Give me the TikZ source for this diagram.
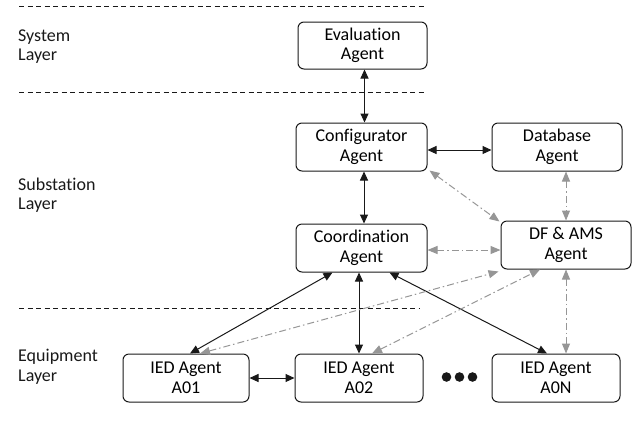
\documentclass[tikz,border=0pt]{standalone}
\usepackage{fontspec}
\setmainfont{Carlito}[RawFeature={-liga;-dlig}]
\usetikzlibrary{arrows.meta}
\definecolor{ink}{RGB}{25,25,25}
\definecolor{softgray}{RGB}{150,150,150}
\begin{document}
\begin{tikzpicture}[x=1pt,y=-1pt,
  font=\fontsize{18}{19.5}\selectfont,
  agent/.style={draw=ink, line width=1pt, rounded corners=6pt, align=center,
    inner sep=0pt, minimum width=#1, minimum height=48pt},
  agent/.default=130pt,
  layer/.style={anchor=west, align=left, inner sep=0pt, text=ink},
  sep/.style={draw=ink, line width=1pt, dash pattern=on 5pt off 3.5pt},
  link/.style={draw=ink, line width=1pt,
    {Triangle[length=9pt,width=8pt]}-{Triangle[length=9pt,width=8pt]}},
  msg/.style={draw=softgray, line width=1pt, dash pattern=on 7pt off 3pt on 1.5pt off 3pt,
    {Triangle[length=10pt,width=8pt]}-{Triangle[length=10pt,width=8pt]}}
]
\useasboundingbox (0,0) rectangle (634,424);

% layer separators
\coordinate (s1a) at (19,6);   \coordinate (s1b) at (425,6);
\coordinate (s2a) at (19,92);  \coordinate (s2b) at (425,92);
\coordinate (s3a) at (19,308); \coordinate (s3b) at (420,308);
\draw[sep] (s1a) -- (s1b);
\draw[sep] (s2a) -- (s2b);
\draw[sep] (s3a) -- (s3b);

% layer names
\node[layer] (lsys) at (18,46.5) {System\\Layer};
\node[layer] (lsub) at (18,195) {Substation\\Layer};
\node[layer] (lequ) at (18,366.5) {Equipment\\Layer};

% agents
\node[agent=129pt, minimum height=47pt] (eval) at (362.5,45.5) {Evaluation\\Agent};
\node[agent=131pt] (conf) at (361.5,147) {Configurator\\Agent};
\node[agent] (db) at (557,147) {Database\\Agent};
\node[agent=131pt] (coord) at (361.5,248) {Coordination\\Agent};
\node[agent] (df) at (566,245) {DF \& AMS\\Agent};
\node[agent=126pt] (a01) at (186,378) {IED Agent\\A01};
\node[agent=128pt] (a02) at (359,378) {IED Agent\\A02};
\node[agent=128pt] (a0n) at (556,378) {IED Agent\\A0N};

% ellipsis between the IED agents
\fill[ink] (446.5,377) circle (4.8pt) (459.5,377) circle (4.8pt) (472.5,377) circle (4.8pt);

% direct links
\draw[link] ([xshift=2pt]eval.south) -- ([xshift=2pt]eval.south |- conf.north);
\draw[link] ([yshift=-3pt]conf.east) -- ([yshift=-3pt]conf.east -| db.west);
\draw[link] ([xshift=2.5pt]conf.south) -- ([xshift=2.5pt]conf.south |- coord.north);
\draw[link] ([xshift=-29pt]coord.south) -- ([xshift=4pt]a01.north);
\draw[link] (a02.north |- coord.south) -- (a02.north);
\draw[link] ([xshift=28pt]coord.south) -- ([xshift=-9pt]a0n.north);
\draw[link] (a01.east) -- (a02.west);

% messages through the directory facilitator
\draw[msg] ([shift={(2pt,1pt)}]conf.south east) -- ([shift={(-1pt,-1pt)}]df.north west);
\draw[msg] (df.north |- db.south) -- (df.north);
\draw[msg] ([yshift=-2pt]coord.east) -- ([yshift=-2pt]coord.east -| df.west);
\draw[msg] ([xshift=14pt]a01.north) -- ([shift={(-2pt,-2pt)}]df.south west);
\draw[msg] ([xshift=13pt]a02.north) -- ([xshift=-26pt]df.south);
\draw[msg] (df.south) -- (df.south |- a0n.north);
\end{tikzpicture}
\end{document}
